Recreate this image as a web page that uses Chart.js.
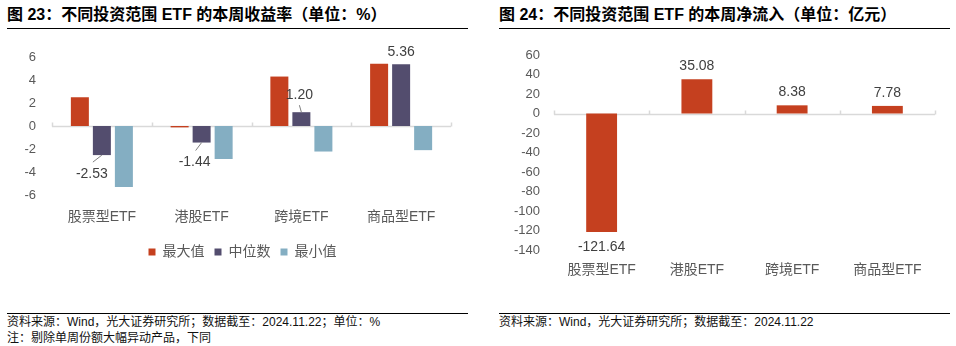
<!DOCTYPE html>
<html>
<head>
<meta charset="utf-8">
<script src="https://cdn.jsdelivr.net/npm/chart.js@4.4.1/dist/chart.umd.min.js"></script>
<style>
  body { margin: 0; background: #fff; width: 956px; height: 346px; position: relative; overflow: hidden;
         font-family: "Liberation Sans", "Noto Sans CJK SC", sans-serif; }
  .title { position: absolute; top: 5px; font-size: 16px; font-weight: bold; line-height: 20px; color: #000; white-space: nowrap; }
  .rule { position: absolute; height: 0; border-top: 1.5px solid #000; }
  .foot { position: absolute; font-size: 12px; line-height: 16px; color: #111; white-space: nowrap; }
  .box { position: absolute; }
</style>
</head>
<body>
<div class="title" style="left:7px">图 23：不同投资范围 ETF 的本周收益率（单位：%）</div>
<div class="rule" style="left:7px; width:461px; top:28px"></div>
<div class="title" style="left:499px">图 24：不同投资范围 ETF 的本周净流入（单位：亿元）</div>
<div class="rule" style="left:499px; width:451px; top:28px"></div>

<div class="box" style="left:0; top:40px; width:478px; height:229px"><canvas id="chartRet"></canvas></div>
<div class="box" style="left:478px; top:40px; width:478px; height:240px"><canvas id="chartFlow"></canvas></div>

<div class="rule" style="left:7px; width:461px; top:313px"></div>
<div class="foot" style="left:7px; top:314px">资料来源：Wind，光大证券研究所；数据截至：2024.11.22；单位：%</div>
<div class="foot" style="left:7px; top:330px">注：剔除单周份额大幅异动产品，下同</div>
<div class="rule" style="left:499px; width:451px; top:313px"></div>
<div class="foot" style="left:499px; top:314px">资料来源：Wind，光大证券研究所；数据截至：2024.11.22</div>

<script>
// 数据
const categorias = ['股票型ETF', '港股ETF', '跨境ETF', '商品型ETF'];
const maximo = [2.50, -0.12, 4.30, 5.42];
const mediana = [-2.53, -1.44, 1.20, 5.36];
const minimo = [-5.30, -2.87, -2.22, -2.10];
const retTicks = [6, 4, 2, 0, -2, -4, -6];

const fluxo = [-121.64, 35.08, 8.38, 7.78];
const flowTicks = [60, 40, 20, 0, -20, -40, -60, -80, -100, -120, -140];

const FONT = '"Liberation Sans", "Noto Sans CJK SC", sans-serif';
const GREY = '#595959';

// linha do zero + pequenos traços entre categorias
const zeroLine = {
    id: 'zeroLine',
    beforeDatasetsDraw(chart) {
        const { ctx, chartArea, scales } = chart;
        const y0 = Math.round(scales.y.getPixelForValue(0)) + 0.5;
        const n = chart.data.labels.length;
        const step = (chartArea.right - chartArea.left) / n;
        ctx.save();
        ctx.strokeStyle = '#d9d9d9';
        ctx.lineWidth = 1.5;
        ctx.beginPath();
        ctx.moveTo(chartArea.left, y0);
        ctx.lineTo(chartArea.right, y0);
        for (let i = 0; i <= n; i++) {
            const x = Math.round(chartArea.left + step * i) + 0.5;
            ctx.moveTo(x, y0);
            ctx.lineTo(x, y0 - 4);
        }
        ctx.stroke();
        ctx.restore();
    }
};

// rótulos dos valores
const valueLabels = {
    id: 'valueLabels',
    afterDatasetsDraw(chart, args, opts) {
        const { ctx } = chart;
        ctx.save();
        ctx.font = '14px ' + FONT;
        ctx.fillStyle = '#404040';
        ctx.textAlign = 'center';
        ctx.textBaseline = 'middle';
        const meta = chart.getDatasetMeta(opts.dataset);
        const values = chart.data.datasets[opts.dataset].data;
        meta.data.forEach((bar, i) => {
            const v = values[i];
            const st = opts.styles ? opts.styles[i] : { dx: 0, dy: v >= 0 ? -13 : 15 };
            const end = bar.y;
            if (st.leader) {
                ctx.strokeStyle = '#7f7f7f';
                ctx.lineWidth = 1;
                ctx.beginPath();
                ctx.moveTo(bar.x, end);
                ctx.lineTo(bar.x + st.lx, end + st.ly);
                ctx.stroke();
            }
            ctx.fillText(v.toFixed(2), bar.x + st.dx, end + st.dy);
        });
        ctx.restore();
    }
};

// desloca a legenda para a direita
const legendShift = {
    id: 'legendShift',
    afterLayout(chart, args, opts) {
        if (chart.legend) {
            chart.legend.left += opts.dx;
            chart.legend.right += opts.dx;
        }
    }
};

function fixedTicks(list) {
    return (scale) => { scale.ticks = list.slice().sort((a, b) => a - b).map((v) => ({ value: v })); };
}

const ctxRet = document.getElementById('chartRet').getContext('2d');
const retChart = new Chart(ctxRet, {
    type: 'bar',
    data: {
        labels: categorias,
        datasets: [
            { label: '最大值', data: maximo, backgroundColor: '#c5401f' },
            { label: '中位数', data: mediana, backgroundColor: '#534d6e' },
            { label: '最小值', data: minimo, backgroundColor: '#84aec2' }
        ]
    },
    plugins: [zeroLine, valueLabels, legendShift],
    options: {
        responsive: true,
        maintainAspectRatio: false,
        animation: false,
        datasets: { bar: { categoryPercentage: 0.662, barPercentage: 0.818 } },
        layout: { padding: { left: 0, right: 27, top: 17, bottom: 0 } },
        scales: {
            x: {
                grid: { display: false, drawTicks: false },
                border: { display: false },
                ticks: { color: GREY, font: { family: FONT, size: 14 }, padding: 14 },
                afterFit: (s) => { s.height = 40; }
            },
            y: {
                min: -6, max: 6,
                grid: { display: false, drawTicks: true, tickLength: 16 },
                border: { display: false },
                ticks: { color: GREY, font: { family: FONT, size: 13 }, padding: 0 },
                afterBuildTicks: fixedTicks(retTicks),
                afterFit: (s) => { s.width = 52; }
            }
        },
        plugins: {
            legend: {
                position: 'bottom',
                labels: { boxWidth: 7, boxHeight: 7, padding: 10, color: GREY, font: { family: FONT, size: 14 } }
            },
            legendShift: { dx: 17 },
            tooltip: { enabled: false },
            valueLabels: {
                dataset: 1,
                styles: [
                    { dx: -10, dy: 19, leader: true, lx: -9, ly: 7 },
                    { dx: -7, dy: 20, leader: true, lx: -6, ly: 8 },
                    { dx: -2, dy: -17, leader: true, lx: -2, ly: -7 },
                    { dx: 0, dy: -12, leader: false }
                ]
            }
        }
    }
});

const ctxFlow = document.getElementById('chartFlow').getContext('2d');
const flowChart = new Chart(ctxFlow, {
    type: 'bar',
    data: {
        labels: categorias,
        datasets: [
            { label: '净流入', data: fluxo, backgroundColor: '#c5401f' }
        ]
    },
    plugins: [zeroLine, valueLabels],
    options: {
        responsive: true,
        maintainAspectRatio: false,
        animation: false,
        datasets: { bar: { categoryPercentage: 0.36, barPercentage: 0.9 } },
        layout: { padding: { left: 0, right: 21, top: 15, bottom: 0 } },
        scales: {
            x: {
                grid: { display: false, drawTicks: false },
                border: { display: false },
                ticks: { color: GREY, font: { family: FONT, size: 14 }, padding: 12 },
                afterFit: (s) => { s.height = 30; }
            },
            y: {
                min: -140, max: 60,
                grid: { display: false, drawTicks: true, tickLength: 14 },
                border: { display: false },
                ticks: { color: GREY, font: { family: FONT, size: 13 }, padding: 0 },
                afterBuildTicks: fixedTicks(flowTicks),
                afterFit: (s) => { s.width = 76; }
            }
        },
        plugins: {
            legend: { display: false },
            tooltip: { enabled: false },
            valueLabels: { dataset: 0 }
        }
    }
});
</script>
</body>
</html>
